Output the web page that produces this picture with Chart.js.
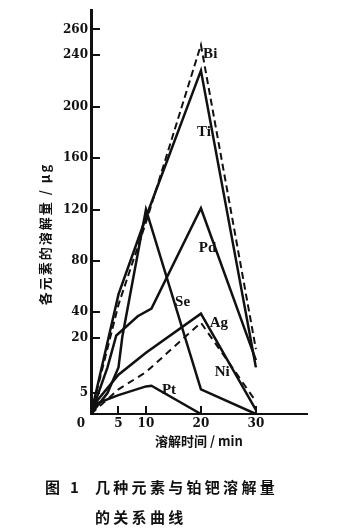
<!DOCTYPE html>
<html>
<head>
<meta charset="utf-8">
<script src="https://cdn.jsdelivr.net/npm/chart.js@4.4.0/dist/chart.umd.min.js"></script>
<style>
html, body { margin: 0; padding: 0; background: #fff; }
#wrap { position: relative; width: 352px; height: 531px; }
canvas { position: absolute; left: 0; top: 0; }
.cap { position: absolute; font-family: "Noto Sans CJK SC"; font-weight: 700; font-size: 15px; line-height: 16px; letter-spacing: 3.3px; color: #111; white-space: nowrap; }
</style>
</head>
<body>
<div id="wrap">
  <canvas id="chart" width="352" height="531"></canvas>
  <div class="cap" style="left:45px; top:479px;">图 1</div>
  <div class="cap" style="left:95px; top:479px;">几种元素与铂钯溶解量</div>
  <div class="cap" style="left:95px; top:509px;">的关系曲线</div>
</div>
<script>
// dissolution time (min) and dissolved amount (μg)
const biTime = [0, 5, 10, 20, 30];
const biAmount = [0, 46, 110, 248, 17];
const tiTime = [0, 5, 10, 20, 30];
const tiAmount = [0, 54, 114, 228, 12];
const pdTime = [0, 3, 4.6, 8.5, 11, 20, 30];
const pdAmount = [0, 12, 22, 37, 43, 121, 14];
const seTime = [0, 3, 5, 5.7, 10, 20, 30];
const seAmount = [0, 5, 12, 21, 120, 6, 0];
const agTime = [0, 1, 5, 10, 20, 30];
const agAmount = [0, 3, 10, 16, 39, 1];
const niTime = [0, 5, 10, 20, 30];
const niAmount = [0, 6, 10.7, 32, 3];
const ptTime = [0, 1, 5, 10, 11, 20];
const ptAmount = [0, 2.5, 4.5, 6.8, 7, 0];

const xTicks = [5, 10, 20, 30];
const yTicks = [5, 20, 40, 80, 120, 160, 200, 240, 260];

// where each element name sits (time, amount)
const labelNames = ['Bi', 'Ti', 'Pd', 'Se', 'Ag', 'Ni', 'Pt'];
const labelTime = [20.4, 19.3, 19.6, 15.3, 21.6, 22.5, 12.9];
const labelAmount = [241, 180, 90, 48, 31.7, 10.7, 5.8];

// the value axis is stretched below 20
const yKnots = [0, 5, 20, 275];
const yKnotPos = [0, 0.052, 0.188, 1];

class BrokenScale extends Chart.LinearScale {
  getPixelForValue(value) {
    if (value === null || value === undefined || isNaN(value)) return NaN;
    let i = 1;
    while (i < yKnots.length - 1 && value > yKnots[i]) i++;
    const f = yKnotPos[i - 1] + (value - yKnots[i - 1]) / (yKnots[i] - yKnots[i - 1]) * (yKnotPos[i] - yKnotPos[i - 1]);
    return this.getPixelForDecimal(f);
  }
  getValueForPixel(pixel) {
    const f = this.getDecimalForPixel(pixel);
    let i = 1;
    while (i < yKnotPos.length - 1 && f > yKnotPos[i]) i++;
    return yKnots[i - 1] + (f - yKnotPos[i - 1]) / (yKnotPos[i] - yKnotPos[i - 1]) * (yKnots[i] - yKnots[i - 1]);
  }
}
BrokenScale.id = 'broken';
BrokenScale.defaults = {};
Chart.register(BrokenScale);

const ink = '#111';
const toPoints = (time, amount) => time.map((t, i) => ({ x: t, y: amount[i] }));

const series = [
  { label: 'Bi', data: toPoints(biTime, biAmount), dash: [7, 4] },
  { label: 'Ti', data: toPoints(tiTime, tiAmount), dash: [] },
  { label: 'Pd', data: toPoints(pdTime, pdAmount), dash: [] },
  { label: 'Se', data: toPoints(seTime, seAmount), dash: [] },
  { label: 'Ag', data: toPoints(agTime, agAmount), dash: [] },
  { label: 'Ni', data: toPoints(niTime, niAmount), dash: [7, 5] },
  { label: 'Pt', data: toPoints(ptTime, ptAmount), dash: [] },
];

const decor = {
  id: 'decor',
  afterDraw(chart) {
    const { ctx, scales: { x, y } } = chart;
    ctx.save();
    ctx.strokeStyle = ink;
    ctx.lineWidth = 2;
    yTicks.forEach(v => {
      const py = Math.round(y.getPixelForValue(v));
      ctx.beginPath(); ctx.moveTo(x.left, py); ctx.lineTo(x.left + 9, py); ctx.stroke();
    });
    xTicks.forEach(v => {
      const px = Math.round(x.getPixelForValue(v));
      ctx.beginPath(); ctx.moveTo(px, y.bottom); ctx.lineTo(px, y.bottom - 8); ctx.stroke();
    });

    ctx.fillStyle = ink;
    ctx.font = 'bold 12px "DejaVu Serif"';
    ctx.textAlign = 'center';
    ctx.textBaseline = 'middle';
    ctx.fillText('0', x.left - 10, y.bottom + 10);

    ctx.font = 'bold 15px "Liberation Serif"';
    ctx.textAlign = 'left';
    labelNames.forEach((name, i) => {
      ctx.fillText(name, x.getPixelForValue(labelTime[i]), y.getPixelForValue(labelAmount[i]));
    });

    ctx.translate(45, 234);
    ctx.rotate(-Math.PI / 2);
    ctx.font = 'bold 13px "Noto Sans CJK SC"';
    ctx.letterSpacing = '2px';
    ctx.textAlign = 'center';
    ctx.fillText('各元素的溶解量 / μg', 0, 0);
    ctx.restore();
  }
};

new Chart(document.getElementById('chart'), {
  type: 'line',
  data: {
    datasets: series.map(s => ({
      label: s.label,
      data: s.data,
      borderColor: ink,
      borderWidth: s.dash.length ? 2 : 2.5,
      borderDash: s.dash,
      pointRadius: 0,
      tension: 0,
      fill: false
    }))
  },
  options: {
    responsive: false,
    animation: false,
    layout: { padding: { left: 0, top: 10, right: 45, bottom: 82 } },
    plugins: { legend: { display: false }, tooltip: { enabled: false } },
    scales: {
      x: {
        type: 'linear',
        min: 0,
        max: 39.3,
        afterBuildTicks: s => { s.ticks = xTicks.map(v => ({ value: v })); },
        afterFit: s => { s.height = 35; },
        grid: { drawOnChartArea: false, drawTicks: false },
        border: { display: true, color: ink, width: 2 },
        ticks: {
          autoSkip: false, maxRotation: 0, padding: 3, color: ink,
          font: { family: 'DejaVu Serif', weight: 'bold', size: 12 },
          callback: v => String(v)
        },
        title: {
          display: true, text: '溶解时间 / min', color: ink, padding: 0,
          font: { family: 'Noto Sans CJK SC', weight: 'bold', size: 13 }
        }
      },
      y: {
        type: 'broken',
        min: 0,
        max: 275,
        afterBuildTicks: s => { s.ticks = yTicks.map(v => ({ value: v })); },
        afterFit: s => { s.width = 91; },
        grid: { drawOnChartArea: false, drawTicks: false },
        border: { display: true, color: ink, width: 3 },
        ticks: {
          autoSkip: false, padding: 3, color: ink,
          font: { family: 'DejaVu Serif', weight: 'bold', size: 12 },
          callback: v => String(v)
        }
      }
    }
  },
  plugins: [decor]
});
</script>
</body>
</html>
